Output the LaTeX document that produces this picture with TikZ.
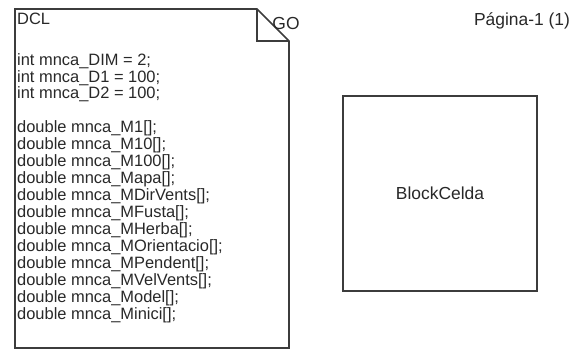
\documentclass[tikz,border=0pt]{standalone}
\usepackage{fontspec}
\setmainfont{Liberation Sans}
\usepackage{xcolor}
\usetikzlibrary{positioning}
\definecolor{linecolor}{RGB}{60,60,60}
\definecolor{textcolor}{RGB}{40,40,40}

\begin{document}
\begin{tikzpicture}[
    x=1bp, y=-1bp,
    doc/.style={draw=linecolor, line width=1.6bp, line join=miter},
    code/.style={anchor=north west, inner sep=0pt, align=left, text=textcolor, font={\fontsize{16.5}{17}\selectfont}},
    block/.style={draw=linecolor, line width=1.6bp, minimum width=194bp, minimum height=195bp, text=textcolor, font={\fontsize{17.5}{20}\selectfont}},
    label/.style={inner sep=0pt, text=textcolor, font={\fontsize{17.5}{20}\selectfont}}
]
    \useasboundingbox (0,0) rectangle (582,352);

    % Document shape with folded corner
    \coordinate (tl) at (15,9);
    \coordinate (fold) at (257,9);
    \coordinate (corner) at (289,41);
    \coordinate (br) at (289,348);
    \draw[doc] (fold) -- (tl) -- (15,348) -- (br) -- (corner) -- cycle;
    \draw[doc] (fold) -- (257,41) -- (corner);

    % Declarations
    \node[label, anchor=base west, font={\fontsize{16.5}{17}\selectfont}] (dcl) at (17,24) {DCL};
    \node[code] (vars) at (17,53) {int mnca\_DIM = 2;\\
        int mnca\_D1 = 100;\\
        int mnca\_D2 = 100;\\ \mbox{}\\
        double mnca\_M1[];\\
        double mnca\_M10[];\\
        double mnca\_M100[];\\
        double mnca\_Mapa[];\\
        double mnca\_MDirVents[];\\
        double mnca\_MFusta[];\\
        double mnca\_MHerba[];\\
        double mnca\_MOrientacio[];\\
        double mnca\_MPendent[];\\
        double mnca\_MVelVents[];\\
        double mnca\_Model[];\\
        double mnca\_Minici[];};
    \node[label] (go) at (286,23) {GO};

    % Page label
    \node[label] (page) at (522,21) {Página-1 (1)};

    % Block
    \node[block] (celda) at (440,193.5) {BlockCelda};
\end{tikzpicture}
\end{document}
